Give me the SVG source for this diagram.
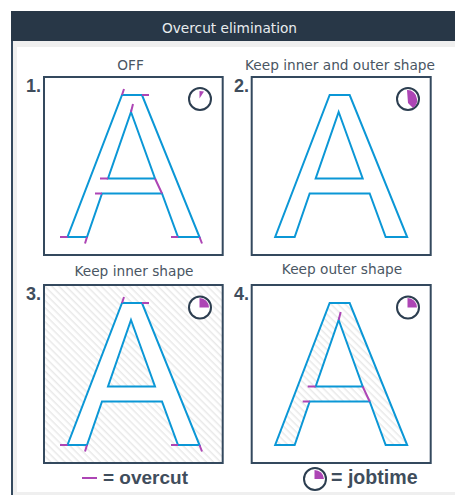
<svg xmlns="http://www.w3.org/2000/svg" width="455" height="495" viewBox="0 0 455 495">
<style>
.lbl{font-family:"DejaVu Sans",sans-serif;font-size:13.700px;fill:#4a5663;text-anchor:middle}
.num{font-family:"Liberation Sans",Arial,sans-serif;font-size:18px;font-weight:700;fill:#3f4d5c}
.leg{font-family:"Liberation Sans",Arial,sans-serif;font-size:19px;font-weight:700;fill:#3f4d5c}
.frame{fill:#fff;stroke:#34495e;stroke-width:2}
.cut{fill:none;stroke:#0b97d6;stroke-width:2}
.over{fill:none;stroke:#ad45b5;stroke-width:2}
.clock{fill:#fff;stroke:#2c3e50;stroke-width:2}
.wedge{fill:#ad45b5}
</style>
<defs>
<pattern id="hatch" width="5" height="5" patternUnits="userSpaceOnUse" patternTransform="rotate(45)">
<rect width="5" height="5" fill="#fff"/>
<rect width="5" height="1.500" fill="#e9e9e9"/>
</pattern>
<path id="outer" d="M122,95H142L199.500,237H178L162,193.500H102L87,237H67.500Z"/>
<path id="inner" d="M131,112L155,178.500H108Z"/>
</defs>
<rect width="455" height="495" fill="#fff"/>
<g id="page">
<rect x="11" y="11" width="444" height="484" fill="#34495e"/>
<rect x="13" y="41" width="442" height="454" fill="#efefef"/>
<rect x="17" y="47" width="438" height="445" fill="#fff"/>
<rect x="11" y="11" width="444" height="30" fill="#283747"/>
<text x="229.500" y="32.500" font-family="'DejaVu Sans',sans-serif" font-size="13.700" fill="#e8ecef" text-anchor="middle">Overcut elimination</text>
</g>
<g id="panel1">
<text class="lbl" x="130.500" y="70">OFF</text>
<text class="num" x="26" y="92">1.</text>
<rect class="frame" x="44" y="77" width="178.700" height="178"/>
<use href="#outer" class="cut"/><use href="#inner" class="cut"/>
<path class="over" d="M124,89L122,95M142,95H149M133,104L131,112M100,178.500H108M155,178.500L162,193.500M95,193.500H102M60,237H67.500M87,237L85,243.500M171,237H178M199.500,237L202,243.500"/>
<circle class="clock" cx="200" cy="99" r="11"/>
<path class="wedge" d="M199.500,98.500V91L204,91.500Z"/>
</g>
<g id="panel2">
<text class="lbl" x="340" y="70">Keep inner and outer shape</text>
<text class="num" x="234" y="92">2.</text>
<rect class="frame" x="251.700" y="77" width="179" height="178"/>
<g transform="translate(207.670,0)"><use href="#outer" class="cut"/><use href="#inner" class="cut"/></g>
<circle class="clock" cx="408" cy="99" r="11"/>
<path class="wedge" d="M407,90A9.500,9.500 0 0 1 417,99A9.500,9.500 0 0 1 413,108L408,103Z"/>
</g>
<g id="panel3">
<text class="lbl" x="134" y="276">Keep inner shape</text>
<text class="num" x="26" y="300">3.</text>
<rect class="frame" x="44" y="285" width="178.700" height="178" style="fill:url(#hatch)"/>
<g transform="translate(0,208)">
<use href="#outer" fill="#fff"/><use href="#inner" fill="url(#hatch)"/>
<use href="#outer" class="cut"/><use href="#inner" class="cut"/>
<path class="over" d="M124,89L122,95M142,95H149M60,237H67.500M87,237L85,243.500M171,237H178M199.500,237L202,243.500"/>
</g>
<circle class="clock" cx="200" cy="307.500" r="11"/>
<path class="wedge" d="M199.500,307.500V298A9.500,9.500 0 0 1 209,307.500Z"/>
</g>
<g id="panel4">
<text class="lbl" x="342" y="274">Keep outer shape</text>
<text class="num" x="234" y="300">4.</text>
<rect class="frame" x="251.700" y="285" width="179" height="178"/>
<g transform="translate(207.670,208)">
<use href="#outer" fill="url(#hatch)"/><use href="#inner" fill="#fff"/>
<use href="#outer" class="cut"/><use href="#inner" class="cut"/>
<path class="over" d="M133,104L131,112M100,178.500H108M155,178.500L162,193.500M95,193.500H102"/>
</g>
<circle class="clock" cx="408" cy="307.500" r="11"/>
<path class="wedge" d="M407.500,307.500V298A9.500,9.500 0 0 1 417,307.500Z"/>
</g>
<g id="legend">
<line class="over" x1="82" y1="478" x2="97" y2="478"/>
<text class="leg" x="103" y="484">= overcut</text>
<circle class="clock" cx="315" cy="479" r="11"/>
<path class="wedge" d="M314.500,479V470A9.500,9.500 0 0 1 324,479Z"/>
<text class="leg" x="331" y="484" style="font-size:19.600px">= jobtime</text>
</g>
</svg>
